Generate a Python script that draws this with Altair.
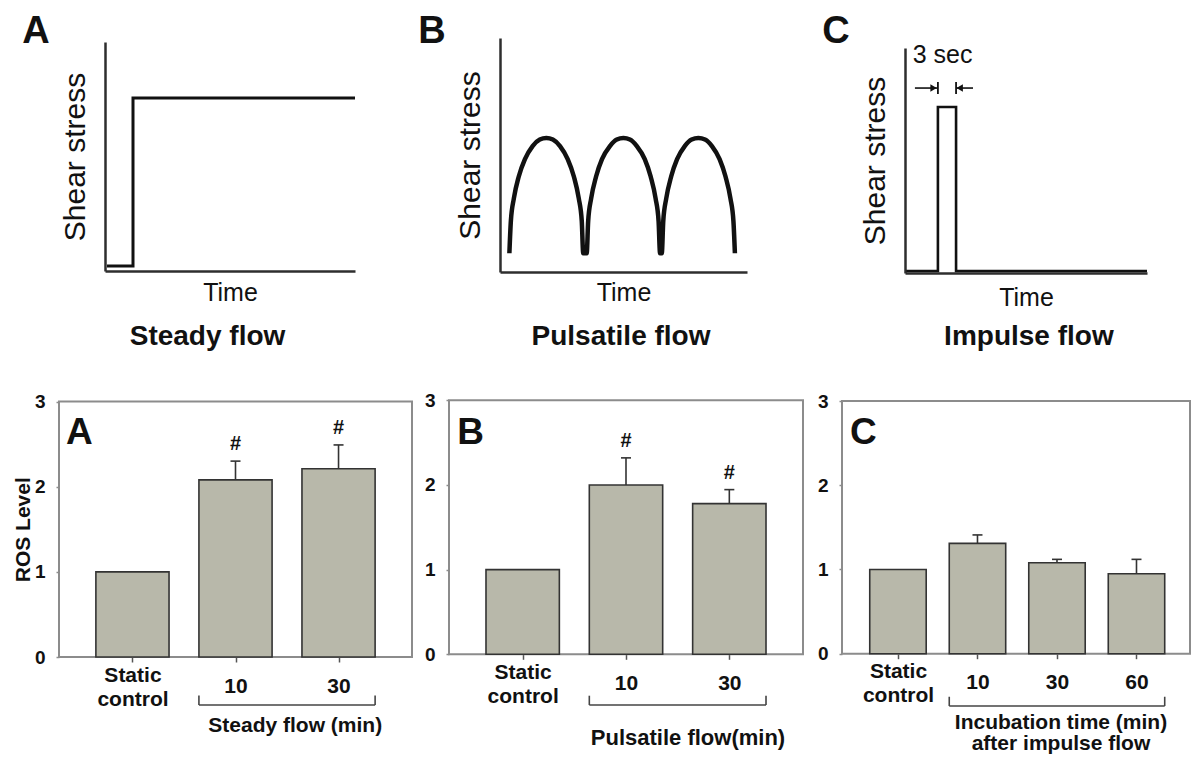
import altair as alt
import pandas as pd

W, H = 1184, 747
FONT = "Liberation Sans"
INK = "#111111"
LINE_INK = "#2e2e2e"
FRAME = "#8c8c8c"
BAR_FILL = "#b8b8aa"
BAR_EDGE = "#333333"

# ---------------- top row: shear-stress profiles (time 0-100, shear 0-100) ----------------
steady_time = [0.8, 11.2, 11.2, 100.0]
steady_shear = [2.2, 2.2, 75.5, 75.5]

pulsatile_time = [3.8, 4.4, 5.6, 7.6, 10.1, 13.2, 16.1, 18.75, 21.4, 24.3, 27.4, 29.9, 31.9, 33.1, 33.7,
                  35.1, 35.7, 36.9, 38.9, 41.3, 44.5, 47.3, 49.95, 52.6, 55.4, 58.6, 61.0, 63.0, 64.2, 64.8,
                  65.5, 66.1, 67.3, 69.3, 71.7, 74.8, 77.6, 80.3, 83.0, 85.8, 88.9, 91.3, 93.3, 94.5, 95.1]
pulsatile_shear = [8.0, 21.8, 31.4, 40.8, 48.2, 53.8, 56.6, 57.3, 56.6, 53.8, 48.2, 40.8, 31.4, 21.8, 8.0,
                   8.0, 21.8, 31.4, 40.8, 48.2, 53.8, 56.6, 57.3, 56.6, 53.8, 48.2, 40.8, 31.4, 21.8, 8.0,
                   8.0, 21.8, 31.4, 40.8, 48.2, 53.8, 56.6, 57.3, 56.6, 53.8, 48.2, 40.8, 31.4, 21.8, 8.0]

impulse_time = [0.5, 13.6, 13.6, 21.1, 21.1, 100.0]
impulse_shear = [0.9, 0.9, 73.8, 73.8, 0.9, 0.9]

pulse_width_label = "3 sec"
pulse_label_at = (15.5, 93.3)
arrow_level = 82.2
arrow_line_start = [4.1, 21.1]
arrow_line_end = [13.6, 28.1]
arrow_head_at = [11.8, 22.6]
arrow_head_shape = ["triangle-right", "triangle-left"]
arrow_stop_at = [13.6, 21.1]
arrow_stop_low, arrow_stop_high = 79.6, 84.9

# ---------------- bottom row: ROS level ----------------
steady_groups = ["Static control", "10", "30"]
steady_ros = [1.0, 2.08, 2.21]
steady_sem = [0.0, 0.22, 0.28]
steady_sig = ["", "#", "#"]

pulsatile_groups = ["Static control", "10", "30"]
pulsatile_ros = [1.0, 2.0, 1.78]
pulsatile_sem = [0.0, 0.32, 0.165]
pulsatile_sig = ["", "#", "#"]

impulse_groups = ["Static control", "10", "30", "60"]
impulse_ros = [1.0, 1.31, 1.08, 0.95]
impulse_sem = [0.0, 0.10, 0.04, 0.17]
impulse_sig = ["", "", "", ""]

BAR_HALF = 0.355


def text_unit(df, sx, sy, **style):
    return alt.Chart(df).mark_text(font=FONT, color=INK, align="center", baseline="alphabetic",
                                   **style).encode(
        x=alt.X("a:Q", scale=sx, axis=None), y=alt.Y("b:Q", scale=sy, axis=None), text="txt:N")


def flow_panel(time, shear, letter, name, xr, yr, letter_at, name_at, time_pad,
               interp="linear", width=3.0, extra=None):
    sx = alt.Scale(domain=[0, 100], range=xr, nice=False, zero=False)
    sy = alt.Scale(domain=[0, 100], range=yr, nice=False, zero=False)
    df = pd.DataFrame({"i": list(range(len(time))), "t": time, "s": shear})
    line = alt.Chart(df).mark_line(color=INK, strokeWidth=width, interpolate=interp).encode(
        x=alt.X("t:Q", scale=sx, axis=alt.Axis(
            orient="bottom", offset=yr[0] - H, grid=False, ticks=False, labels=False,
            domainColor=LINE_INK, domainWidth=2.5, title="Time", titleFont=FONT,
            titleFontSize=25, titleFontWeight="normal", titleColor=INK, titlePadding=time_pad)),
        y=alt.Y("s:Q", scale=sy, axis=alt.Axis(
            orient="left", offset=-xr[0], grid=False, ticks=False, labels=False,
            domainColor=LINE_INK, domainWidth=2.5, title="Shear stress", titleFont=FONT,
            titleFontSize=30, titleFontWeight="normal", titleColor=INK, titlePadding=15)),
        order="i:Q",
    )
    letter_df = pd.DataFrame({"a": [letter_at[0]], "b": [letter_at[1]], "txt": [letter]})
    name_df = pd.DataFrame({"a": [name_at[0]], "b": [name_at[1]], "txt": [name]})
    units = [line,
             text_unit(letter_df, sx, sy, fontSize=38, fontWeight="bold"),
             text_unit(name_df, sx, sy, fontSize=28, fontWeight="bold")]
    if extra:
        units += extra(sx, sy)
    return units


def impulse_extras(sx, sy):
    lines = pd.DataFrame({"a": arrow_line_start, "c": arrow_line_end, "b": [arrow_level] * 2})
    rules = alt.Chart(lines).mark_rule(color=INK, strokeWidth=1.6).encode(
        x=alt.X("a:Q", scale=sx, axis=None), x2="c:Q", y=alt.Y("b:Q", scale=sy, axis=None))
    stops = pd.DataFrame({"a": arrow_stop_at, "b": [arrow_stop_low] * 2, "c": [arrow_stop_high] * 2})
    stop_marks = alt.Chart(stops).mark_rule(color=INK, strokeWidth=1.8).encode(
        x=alt.X("a:Q", scale=sx, axis=None), y=alt.Y("b:Q", scale=sy, axis=None), y2="c:Q")
    heads = []
    for pos, shp in zip(arrow_head_at, arrow_head_shape):
        hdf = pd.DataFrame({"a": [pos], "b": [arrow_level]})
        heads.append(alt.Chart(hdf).mark_point(shape=shp, filled=True, size=55, color=INK, opacity=1).encode(
            x=alt.X("a:Q", scale=sx, axis=None), y=alt.Y("b:Q", scale=sy, axis=None)))
    lab = pd.DataFrame({"a": [pulse_label_at[0]], "b": [pulse_label_at[1]], "txt": [pulse_width_label]})
    return [rules, stop_marks] + heads + [text_unit(lab, sx, sy, fontSize=25)]


def label_expr(groups):
    def lit(g):
        parts = g.split(" ")
        if len(parts) > 1:
            return "['%s','%s']" % (parts[0], " ".join(parts[1:]))
        return "'%s'" % g
    expr = lit(groups[-1])
    for i in range(len(groups) - 2, -1, -1):
        expr = "datum.value == %d ? %s : (%s)" % (i, lit(groups[i]), expr)
    return expr


def two_line_test(groups):
    idx = [i for i, g in enumerate(groups) if " " in g]
    return " || ".join("datum.value == %d" % i for i in idx)


def ros_panel(groups, ros, sem, sig, letter, group_label, xr, yr, xdom, letter_at,
              bracket_y, label_at, show_ytitle, label_size=21):
    n = len(groups)
    sx = alt.Scale(domain=xdom, range=xr, nice=False, zero=False)
    sy = alt.Scale(domain=[0, 3], range=yr, nice=False, zero=False)
    df = pd.DataFrame({"pos": list(range(n)), "ros": ros, "sem": sem, "sig": sig})
    df["left"] = df["pos"] - BAR_HALF
    df["right"] = df["pos"] + BAR_HALF
    df["base"] = 0.0
    df["top"] = df["ros"] + df["sem"]

    frame_df = pd.DataFrame({"x0": [xdom[0]], "x1": [xdom[1]], "y0": [0.0], "y1": [3.0]})
    frame = alt.Chart(frame_df).mark_rect(fill="transparent", stroke=FRAME, strokeWidth=2).encode(
        x=alt.X("x0:Q", scale=sx, axis=None), x2="x1:Q",
        y=alt.Y("y0:Q", scale=sy, axis=None), y2="y1:Q")

    # two-line labels start at the anchor, one-line labels sit half a line lower
    baseline_rule = {"condition": {"test": two_line_test(groups), "value": "middle"}, "value": "top"}
    xaxis = alt.Axis(orient="bottom", offset=yr[0] - H, values=list(range(n)), labelExpr=label_expr(groups),
                     grid=False, domain=False, ticks=True, tickSize=5, tickColor="#555555", tickWidth=1.5,
                     labelPadding=13, labelFont=FONT, labelFontSize=21, labelFontWeight="bold",
                     labelColor=INK, labelBaseline=baseline_rule, labelLineHeight=24, labelFlush=False,
                     labelOverlap=False, labelAngle=0, title="")
    yaxis = alt.Axis(orient="left", offset=-xr[0], values=[0, 1, 2, 3], format="d", grid=False,
                     domain=False, ticks=True, tickSize=3, tickColor=FRAME, tickWidth=1.5,
                     labelPadding=11, labelFont=FONT, labelFontSize=19, labelFontWeight="bold",
                     labelColor=INK, title=("ROS Level" if show_ytitle else ""), titleFont=FONT,
                     titleFontSize=21, titleFontWeight="bold", titleColor=INK, titlePadding=1)
    bars = alt.Chart(df).mark_rect(fill=BAR_FILL, stroke=BAR_EDGE, strokeWidth=1.6).encode(
        x=alt.X("left:Q", scale=sx, axis=xaxis), x2="right:Q",
        y=alt.Y("base:Q", scale=sy, axis=yaxis), y2="ros:Q")

    err_df = df[df["sem"] > 0]
    stems = alt.Chart(err_df).mark_rule(color=BAR_EDGE, strokeWidth=1.6).encode(
        x=alt.X("pos:Q", scale=sx, axis=None), y=alt.Y("ros:Q", scale=sy, axis=None), y2="top:Q")
    caps = alt.Chart(err_df).mark_tick(orient="horizontal", size=10, thickness=1.6, color=BAR_EDGE,
                                       opacity=1).encode(
        x=alt.X("pos:Q", scale=sx, axis=None), y=alt.Y("top:Q", scale=sy, axis=None))
    units = [frame, bars, stems, caps]
    sig_df = df[df["sig"] != ""]
    if len(sig_df):
        units.append(alt.Chart(sig_df).mark_text(font=FONT, fontSize=20, fontWeight="bold", color=INK,
                                                 dy=-11, align="center", baseline="alphabetic").encode(
            x=alt.X("pos:Q", scale=sx, axis=None), y=alt.Y("top:Q", scale=sy, axis=None), text="sig:N"))

    letter_df = pd.DataFrame({"a": [letter_at[0]], "b": [letter_at[1]], "txt": [letter]})
    units.append(text_unit(letter_df, sx, sy, fontSize=37, fontWeight="bold"))

    first, last = 1 - BAR_HALF, (n - 1) + BAR_HALF
    tick_h = 0.11
    br = pd.DataFrame({"a": [first, first, last], "c": [last, first, last],
                       "b": [bracket_y, bracket_y, bracket_y],
                       "d": [bracket_y, bracket_y + tick_h, bracket_y + tick_h]})
    units.append(alt.Chart(br).mark_rule(color="#444444", strokeWidth=1.6).encode(
        x=alt.X("a:Q", scale=sx, axis=None), x2="c:Q", y=alt.Y("b:Q", scale=sy, axis=None), y2="d:Q"))
    gl = pd.DataFrame({"a": [label_at[0]], "b": [label_at[1]], "txt": [group_label]})
    units.append(text_unit(gl, sx, sy, fontSize=label_size, fontWeight="bold", lineBreak="\n",
                           lineHeight=21))
    return units


units = []
units += flow_panel(steady_time, steady_shear, "A", "Steady flow", [97, 347], [263, 34],
                    (-27.6, 99.6), (41.0, -32.3), 9, width=3.0)
units += flow_panel(pulsatile_time, pulsatile_shear, "B", "Pulsatile flow", [492, 739], [264, 30],
                    (-27.5, 97.9), (49.0, -31.2), 8, interp="monotone", width=4.5)
units += flow_panel(impulse_time, impulse_shear, "C", "Impulse flow", [897, 1139], [265, 40],
                    (-28.5, 102.2), (51.2, -32.0), 12, width=2.6, extra=impulse_extras)

units += ros_panel(steady_groups, steady_ros, steady_sem, steady_sig, "A", "Steady flow (min)",
                   [51, 404], [649, 393.5], [-0.713, 2.713], (-0.516, 2.50), -0.563, (1.58, -0.88), True)
units += ros_panel(pulsatile_groups, pulsatile_ros, pulsatile_sem, pulsatile_sig, "B", "Pulsatile flow(min)",
                   [441, 795], [646.3, 392.3], [-0.713, 2.713], (-0.505, 2.48), -0.599, (1.60, -1.07), False,
                   label_size=22)
units += ros_panel(impulse_groups, impulse_ros, impulse_sem, impulse_sig, "C",
                   "Incubation time (min)\nafter impulse flow",
                   [834, 1182], [645.7, 393.0], [-0.704, 3.673], (-0.434, 2.49), -0.621, (2.05, -0.894), False)

chart = alt.layer(*units).resolve_scale(
    x="independent", y="independent"
).properties(
    width=W, height=H, padding=0, autosize=alt.AutoSizeParams(type="none")
).configure_view(stroke="transparent").configure_axis(grid=False)

chart.save("out.html", embed_options={"renderer": "svg", "actions": False})
